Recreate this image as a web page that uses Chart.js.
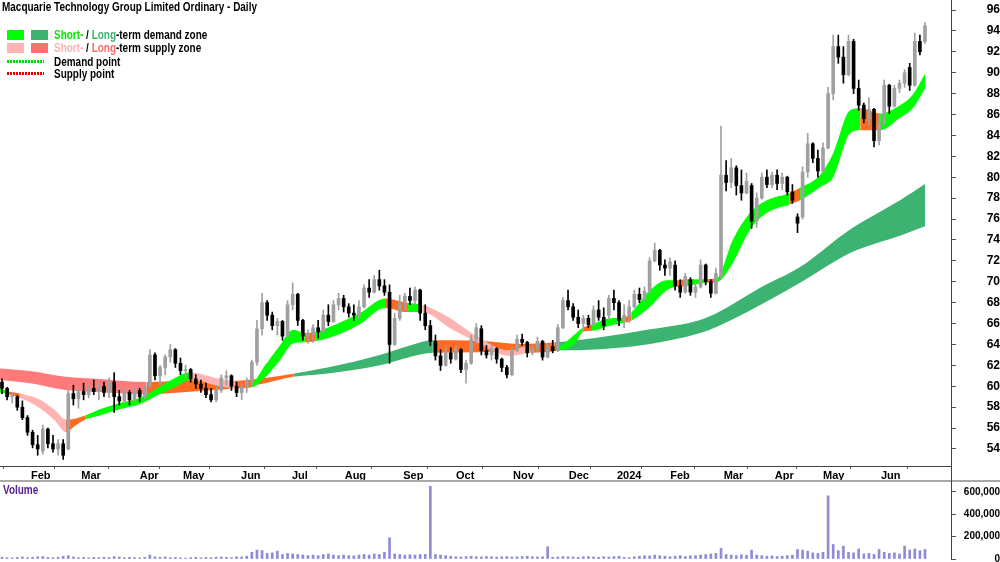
<!DOCTYPE html>
<html>
<head>
<meta charset="utf-8">
<title>Macquarie Technology Group - Daily</title>
<script src="https://cdn.jsdelivr.net/npm/chart.js@4.4.1/dist/chart.umd.min.js"></script>
<style>
  html, body { margin: 0; padding: 0; background: #fff; }
  #wrap { position: relative; width: 1000px; height: 562px; overflow: hidden; background: #fff;
    font: bold 12px "Liberation Sans", Arial, sans-serif; color: #000; }
  canvas { position: absolute; left: 0; }
  #price { top: 0; }
  #vol { top: 482px; }
  .txt { position: absolute; white-space: nowrap; line-height: 14px; transform: scaleX(0.83); transform-origin: 0 0; }
  .sw { position: absolute; width: 17px; height: 10px; }
  .dots { position: absolute; left: 7px; width: 37px; height: 3px; }
</style>
</head>
<body>
<div id="wrap">
  <canvas id="price" width="1000" height="482"></canvas>
  <canvas id="vol" width="1000" height="80"></canvas>
  <div style="position:absolute;left:0;top:480px;width:1000px;height:2px;background:#a8a8a8"></div>
  <div style="position:absolute;left:951px;top:466px;width:1px;height:16px;background:#444"></div>

  <div class="txt" style="left:2px;top:0">Macquarie Technology Group Limited Ordinary - Daily</div>
  <div class="sw" style="left:7px;top:30px;background:#00ff00"></div>
  <div class="sw" style="left:31px;top:30px;background:#3cb371"></div>
  <div class="txt" style="left:54px;top:28px"><span style="color:#00e600">Short-</span> / <span style="color:#3cb371">Long</span>-term demand zone</div>
  <div class="sw" style="left:7px;top:43px;background:#ffb3b3"></div>
  <div class="sw" style="left:31px;top:43px;background:#ff7070"></div>
  <div class="txt" style="left:54px;top:41px"><span style="color:#ffb0b0">Short-</span> / <span style="color:#ff6b6b">Long</span>-term supply zone</div>
  <div class="dots" style="top:60px;background:repeating-linear-gradient(90deg,#00dd00 0 2px,transparent 2px 3px)"></div>
  <div class="txt" style="left:54px;top:55px">Demand point</div>
  <div class="dots" style="top:72px;background:repeating-linear-gradient(90deg,#ee0000 0 2px,transparent 2px 3px)"></div>
  <div class="txt" style="left:54px;top:67px">Supply point</div>
  <div class="txt" style="left:3px;top:483px;color:#551a8b">Volume</div>
</div>

<script>
// --- candles (one bar per two trading days, Jan 2023 - Jun 2024) ---
var opens = [
  60.4,59.8,59.0,59.0,58.0,57.0,55.6,54.4,53.8,55.9,
  54.5,54.0,54.5,54.0,59.3,58.8,59.5,59.2,59.8,59.5,
  60.0,59.4,60.4,59.0,58.6,59.4,58.7,59.6,59.0,60.0,
  63.0,61.0,61.8,62.8,63.5,62.2,61.5,61.6,60.7,60.2,
  59.8,59.2,58.7,59.6,60.8,61.0,60.0,59.4,59.9,60.5,
  62.3,65.5,68.0,66.8,65.8,66.2,64.8,67.8,68.8,66.3,
  64.8,65.0,65.6,65.2,66.8,66.2,67.8,68.4,67.6,67.0,
  66.8,67.6,69.4,69.0,70.2,69.6,69.0,64.0,66.5,68.0,
  68.6,68.2,69.2,67.0,65.8,64.3,62.9,62.0,63.2,62.6,
  63.5,61.6,62.2,64.5,65.5,63.4,63.0,63.6,62.6,61.8,
  61.1,63.4,64.5,64.2,63.2,63.6,64.3,62.8,63.8,63.4,
  65.6,68.2,67.6,66.6,66.0,66.5,65.9,67.3,66.6,66.8,
  68.4,68.0,66.3,66.8,67.6,68.8,68.3,69.1,72.0,73.0,
  71.6,71.3,71.6,69.6,69.0,70.2,69.0,69.5,71.6,70.0,
  68.9,70.6,80.2,79.5,80.9,79.2,78.5,79.2,75.8,78.0,
  80.0,79.3,80.2,79.4,80.0,78.6,76.2,76.2,80.5,83.2,
  81.8,80.6,82.8,88.0,92.5,91.5,89.8,93.0,88.5,86.9,
  85.6,86.5,83.5,85.2,88.8,86.8,88.5,89.0,90.5,88.8,
  93.0,93.0
];
var highs = [
  60.7,59.9,59.4,59.1,58.6,57.2,55.8,55.3,56.3,56.0,
  55.3,54.9,54.9,59.6,60.1,59.8,60.3,60.1,60.6,60.3,
  60.4,60.8,61.3,59.6,59.8,59.6,59.9,59.8,60.1,63.5,
  63.2,62.0,63.0,64.0,63.6,62.7,62.0,61.7,61.1,60.6,
  60.3,59.8,60.1,61.1,61.5,61.1,60.4,60.3,60.8,62.5,
  66.3,68.9,68.2,67.1,66.5,66.3,68.2,69.9,68.9,66.4,
  65.4,65.9,66.3,67.3,67.8,68.2,68.9,68.7,67.9,67.8,
  68.2,69.7,70.2,70.6,71.1,70.2,69.7,67.0,68.7,68.9,
  69.4,69.5,69.3,67.8,66.3,64.9,63.5,63.9,63.7,63.9,
  63.6,62.5,64.9,66.0,65.8,63.9,63.9,63.7,62.7,62.0,
  63.7,64.9,65.0,64.3,63.9,64.7,64.4,64.1,64.4,65.9,
  68.5,69.2,67.9,67.3,66.8,66.8,67.7,68.2,67.5,68.7,
  69.2,68.2,67.8,68.2,69.2,69.4,69.5,72.3,73.7,73.1,
  72.1,72.3,72.0,70.2,70.8,70.4,69.9,72.1,71.7,70.2,
  71.3,84.9,81.6,81.8,81.1,80.7,80.4,79.4,78.5,80.4,
  80.7,80.5,80.7,80.4,80.1,79.3,76.5,81.0,84.2,83.3,
  82.6,83.3,88.6,93.6,93.6,92.5,93.6,93.2,89.3,87.1,
  87.6,86.6,86.0,89.3,88.9,88.8,89.3,90.3,90.9,93.8,
  93.6,94.8
];
var lows = [
  59.3,58.7,58.4,57.7,56.8,55.3,54.1,53.4,53.5,54.1,
  53.7,53.4,53.0,53.9,58.2,57.9,58.7,58.9,59.2,58.7,
  59.0,58.9,57.5,58.2,58.5,58.2,58.6,58.5,58.8,59.9,
  60.6,60.1,61.1,62.3,61.8,61.1,60.8,60.4,59.8,59.4,
  58.9,58.5,58.5,59.4,60.1,59.6,59.0,58.7,59.4,60.1,
  62.0,64.9,66.3,65.4,64.9,64.4,64.7,67.3,65.8,64.4,
  64.1,64.2,64.6,65.1,65.8,66.1,67.3,67.1,66.6,66.3,
  66.5,67.5,68.5,68.9,69.2,68.7,62.2,63.9,66.3,67.3,
  67.8,67.8,66.3,65.4,63.9,62.5,61.5,61.9,62.2,62.5,
  61.3,60.3,62.1,64.1,63.0,62.7,62.5,62.2,61.4,60.8,
  61.0,63.3,63.9,62.8,63.0,63.3,62.5,62.7,63.2,63.3,
  65.5,67.3,66.3,65.6,65.4,65.6,65.8,66.3,65.4,66.5,
  67.3,65.8,65.6,66.1,67.5,68.0,68.2,68.9,71.9,71.1,
  70.6,70.6,69.2,68.5,68.9,68.7,68.5,69.4,69.7,68.5,
  68.8,70.2,78.7,79.0,78.3,77.8,78.4,75.1,75.2,77.9,
  79.0,79.0,78.8,78.8,78.3,77.5,74.7,76.0,80.0,81.4,
  80.0,80.5,82.7,87.4,90.9,89.0,89.7,88.0,86.4,85.2,
  85.0,82.9,83.1,85.0,86.1,86.7,88.1,88.6,88.3,88.7,
  91.7,92.8
];
var closes = [
  59.8,59.0,59.2,58.0,57.0,55.6,54.4,54.0,55.9,54.5,
  54.0,54.5,53.4,59.3,58.8,59.5,59.2,59.8,59.5,60.0,
  59.4,60.4,59.0,58.6,59.4,58.7,59.6,59.0,59.9,63.0,
  61.0,61.8,62.8,63.5,62.2,61.5,61.6,60.7,60.2,59.8,
  59.2,58.7,59.6,60.8,61.0,60.0,59.4,59.9,60.5,62.3,
  65.5,68.0,66.8,65.8,66.2,64.8,67.8,68.8,66.3,64.8,
  65.0,65.6,65.2,66.8,66.2,67.8,68.4,67.6,67.0,66.8,
  67.6,69.4,69.0,70.2,69.6,69.0,64.0,66.5,68.0,68.6,
  68.2,69.2,67.0,65.8,64.3,62.9,62.0,63.2,62.6,63.5,
  61.6,62.2,64.5,65.6,63.4,63.0,63.6,62.6,61.8,61.1,
  63.4,64.5,64.2,63.2,63.6,64.3,62.8,63.8,63.4,65.6,
  68.2,67.6,66.6,66.0,66.5,65.9,67.3,66.6,65.8,68.4,
  68.0,66.3,66.8,67.6,68.8,68.3,69.1,72.0,73.0,71.6,
  71.3,71.9,69.6,69.0,70.5,69.0,69.5,71.6,70.0,68.9,
  70.8,80.2,79.5,80.9,79.2,78.5,79.6,75.8,78.0,80.0,
  79.3,80.2,79.4,80.0,78.6,77.8,75.6,80.5,83.2,81.8,
  80.6,82.8,88.0,92.5,91.5,89.8,93.0,88.5,86.9,85.6,
  86.5,83.5,85.2,88.8,86.8,88.5,89.0,90.0,88.8,93.0,
  92.0,94.5
];
// volume in thousands of shares
var volumes = [
  15,12,10,14,18,12,15,20,22,14,
  12,16,25,30,18,12,14,10,15,12,
  16,14,22,18,12,15,12,10,14,35,
  20,15,18,12,14,10,8,12,15,10,
  14,12,16,18,15,12,20,18,25,60,
  80,75,50,55,70,40,50,45,40,35,
  30,35,30,40,45,35,30,35,30,28,
  35,40,35,45,40,60,190,45,40,35,
  38,35,40,42,650,40,35,30,25,20,
  18,22,25,20,18,22,20,18,20,22,
  18,20,22,25,20,18,20,110,15,18,
  22,20,18,15,20,22,18,15,20,18,
  22,25,15,12,20,25,30,28,35,30,
  25,20,25,30,22,28,30,35,40,45,
  50,95,40,35,30,38,32,80,35,30,
  25,28,22,25,30,35,85,80,70,55,
  50,60,565,130,75,115,60,55,90,45,
  50,40,85,60,50,55,45,115,80,90,
  75,85
];

// --- short / long term zones: x in bar units, upper and lower edge, state per segment ---
// d = demand, s = supply, n = neutral (orange)
var stX  = [-0.4,0.6,3.5,7.45,10.4,12.55,14.3,16.3,19.2,23.1,27.1,31,33.9,36.9,38.8,41.8,45.7,49,51.6,54.5,
            57.1,59.4,61.4,66.3,70.2,75.1,79.4,82.4,87.9,92.4,99.6,103.5,108.8,112.4,113.9,115.7,119.2,122.2,123.5,127.1,
            130.4,132,134.5,138.4,140.2,143.3,146.7,150,154.5,156.5,160.4,163,166.3,168.3,172.2,176.1,178.6,181];
var stHi = [59.8,59.6,59.3,58.7,57.7,56.8,56.9,57.2,57.8,58.4,58.9,60.0,60.8,61.35,61.2,60.8,60.5,60.4,62.0,63.9,
            65.4,65.1,65.2,66.1,67.0,68.4,68.0,67.8,66.5,65.0,63.4,63.9,63.8,65.0,65.6,65.9,66.5,66.6,67.1,69.2,
            70.15,70.15,70.25,70.25,70.35,74.0,76.6,77.8,78.5,79.0,80.2,82.3,86.4,86.6,86.1,86.9,87.9,89.9];
var stLo = [59.4,59.3,58.9,57.9,56.7,55.6,56.2,56.8,57.2,57.8,58.3,59.25,59.9,60.6,60.5,60.1,59.8,59.9,60.85,62.5,
            64.1,64.2,64.3,65.0,65.95,67.5,67.1,67.1,65.55,64.4,62.9,63.2,63.4,64.1,65.2,65.3,65.8,66.1,66.3,67.6,
            69.2,69.5,69.6,69.9,69.95,71.8,75.0,76.6,77.4,77.8,79.05,80.0,84.2,84.5,84.5,85.7,86.6,88.5];
var stState = 'dnsss nnddd dddss snddd dnddd ndsss snddn ddndd dndnd dddnd dddnd ddd'.replace(/ /g, '').split('');
var ltX  = [-0.4,5.5,12.4,19.2,28.4,38.8,44.7,51.6,57.1,64.3,74.1,80,84.5,93.7,101.6,108.4,117.3,127.1,136.9,140.2,148.6,156.5,166.3,172.2,176.1,181];
var ltHi = [61.7,61.45,60.9,60.7,60.4,60.6,60.5,60.8,61.2,61.85,63.0,63.9,64.4,64.35,64.05,64.2,64.7,65.45,66.35,67.0,69.4,71.4,75.0,76.7,77.8,79.35];
var ltLo = [60.6,60.3,59.65,59.45,59.25,59.55,59.75,60.3,60.9,61.25,62.0,62.8,63.2,63.25,63.45,63.45,63.55,64.05,65.1,65.7,67.75,69.9,72.75,73.8,74.4,75.3];
var ltState = 'ssss nnnn dddd nnn ddddddddddd'.replace(/ /g, '').split('');

// --- axes ---
var monthTicks  = [5.29,15.16,26.61,35.10,46.48,56.48,66.81,78.30,88.64,99.81,110.74,120.21,130.66,141.13,151.14,160.61,171.98];
var monthLabels = ['Feb','Mar','Apr','May','Jun','Jul','Aug','Sep','Oct','Nov','Dec','2024','Feb','Mar','Apr','May','Jun'];
var priceTicks  = [54,56,58,60,62,64,66,68,70,72,74,76,78,80,82,84,86,88,90,92,94,96];
var volumeTicks = [0,200000,400000,600000];

var FONT = '"Liberation Sans", Arial, sans-serif';
var X_MIN = -0.39, X_MAX = 186.1;
var stPal = { d: '#00ff00', s: '#ffb3b3', n: '#ff6a22' };
var ltPal = { d: '#3cb371', s: '#ff7b7b', n: '#ff6a22' };

Chart.defaults.font.family = FONT;
Chart.defaults.font.size = 12;
Chart.defaults.font.weight = 'bold';
Chart.defaults.color = '#000';

var idx = closes.map(function(c, i) { return i; });
var candleColors = closes.map(function(c, i) { return c >= opens[i] ? '#a0a0a0' : '#000000'; });

function band(xs, hi, lo, states, pal, ord) {
  var lower = {
    type: 'line', order: ord, fill: false,
    data: xs.map(function(x, i) { return { x: x, y: lo[i] }; }),
    borderWidth: 0, borderColor: 'transparent', pointRadius: 0, cubicInterpolationMode: 'monotone'
  };
  var upper = {
    type: 'line', order: ord, fill: '-1',
    data: xs.map(function(x, i) { return { x: x, y: hi[i] }; }),
    borderWidth: 0, borderColor: 'transparent', pointRadius: 0, cubicInterpolationMode: 'monotone',
    backgroundColor: pal[states[0]],
    segment: { backgroundColor: function(ctx) { return pal[states[ctx.p0DataIndex]]; } }
  };
  return [lower, upper];
}

var priceSets = [
  { type: 'bar', order: 0, grouped: false, barThickness: 1,
    data: idx.map(function(i) { return { x: i, y: [lows[i], highs[i]] }; }),
    backgroundColor: candleColors },
  { type: 'bar', order: 0, grouped: false, barThickness: 3, minBarLength: 1,
    data: idx.map(function(i) { return { x: i, y: [opens[i], closes[i]] }; }),
    backgroundColor: candleColors }
].concat(band(stX, stHi, stLo, stState, stPal, 1), band(ltX, ltHi, ltLo, ltState, ltPal, 2));

new Chart(document.getElementById('price'), {
  type: 'bar',
  data: { datasets: priceSets },
  options: {
    responsive: false,
    animation: false,
    layout: { padding: 0 },
    plugins: { legend: { display: false }, tooltip: { enabled: false } },
    scales: {
      x: {
        type: 'linear', min: X_MIN, max: X_MAX, offset: false, bounds: 'data',
        grid: { drawOnChartArea: false, drawTicks: true, tickLength: 3, color: '#555' },
        border: { display: true, color: '#444', width: 1 },
        ticks: { autoSkip: false, maxRotation: 0, minRotation: 0, align: 'start', labelOffset: 2, padding: 0,
                 font: { size: 11, weight: 'bold' },
                 callback: function(v, i) { return monthLabels[i]; } },
        afterBuildTicks: function(s) { s.ticks = monthTicks.map(function(v) { return { value: v }; }); },
        afterFit: function(s) { s.height = 16; s.paddingLeft = 0; s.paddingRight = 0; }
      },
      y: {
        type: 'linear', position: 'right', min: 52.37, max: 96.96, bounds: 'data',
        grid: { drawOnChartArea: false, drawTicks: true, tickLength: 5, color: '#555' },
        border: { display: true, color: '#444', width: 1 },
        ticks: { crossAlign: 'far', padding: 28, font: { size: 12, weight: 'bold' },
                 callback: function(v) { return v; } },
        afterBuildTicks: function(s) { s.ticks = priceTicks.map(function(v) { return { value: v }; }); },
        afterFit: function(s) { s.width = 49; s.paddingTop = 0; s.paddingBottom = 0; }
      }
    }
  }
});

new Chart(document.getElementById('vol'), {
  type: 'bar',
  data: { datasets: [{
    grouped: false, barThickness: 2,
    data: idx.map(function(i) { return { x: i, y: volumes[i] * 1000 }; }),
    backgroundColor: '#8c8cd8'
  }] },
  options: {
    responsive: false,
    animation: false,
    layout: { padding: { top: 0, bottom: 3, left: 0, right: 0 } },
    plugins: { legend: { display: false }, tooltip: { enabled: false } },
    scales: {
      x: { type: 'linear', min: X_MIN, max: X_MAX, offset: false, bounds: 'data', display: false },
      y: {
        type: 'linear', position: 'right', min: 0, max: 689000, bounds: 'data',
        grid: { drawOnChartArea: false, drawTicks: true, tickLength: 5, color: '#555' },
        border: { display: true, color: '#444', width: 1 },
        ticks: { crossAlign: 'far', padding: 7, font: { size: 10, weight: 'bold' },
                 callback: function(v) { return v.toLocaleString('en-US'); } },
        afterBuildTicks: function(s) { s.ticks = volumeTicks.map(function(v) { return { value: v }; }); },
        afterFit: function(s) { s.width = 49; s.paddingTop = 0; s.paddingBottom = 0; }
      }
    }
  }
});
</script>
</body>
</html>
